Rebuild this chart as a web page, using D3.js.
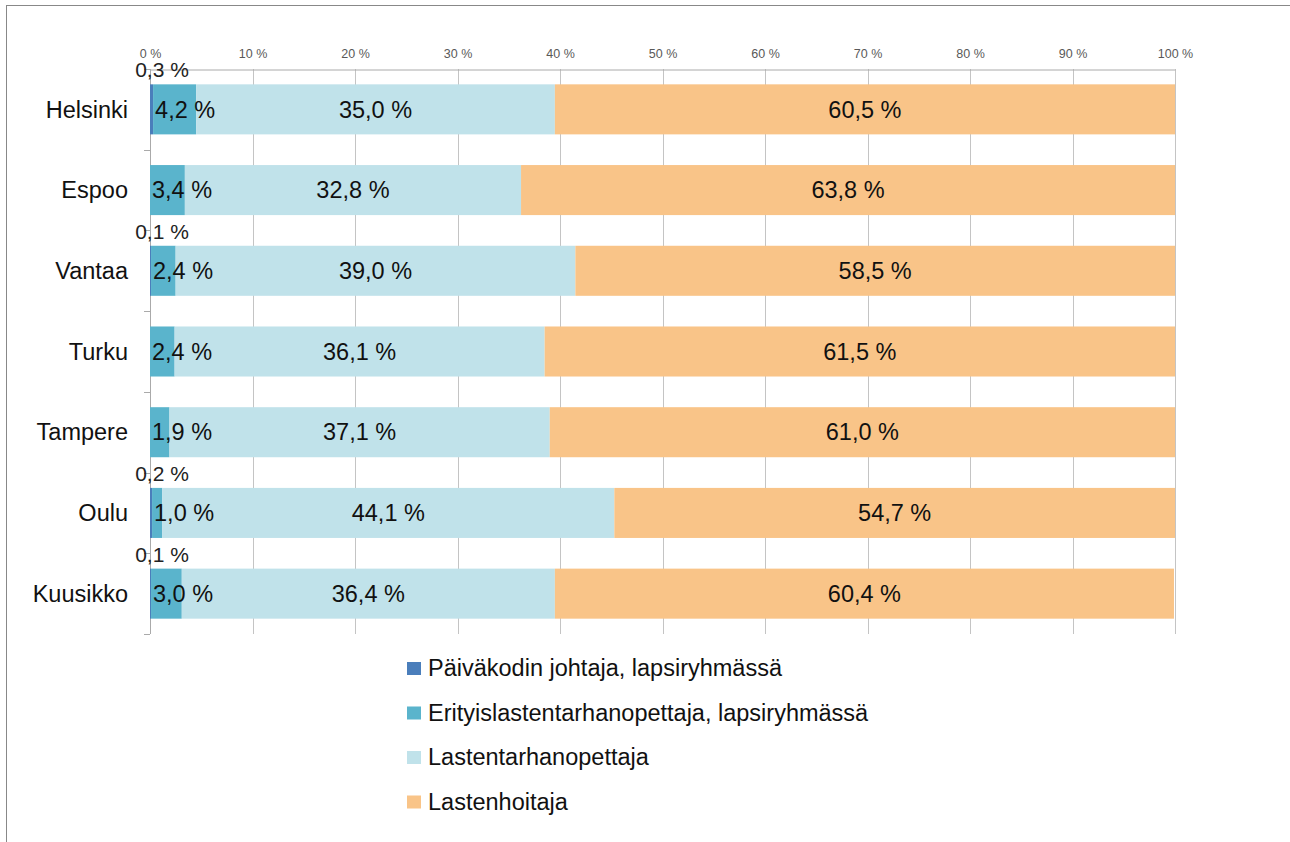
<!DOCTYPE html>
<html>
<head>
<meta charset="utf-8">
<script src="https://cdn.jsdelivr.net/npm/d3@7"></script>
<style>
  body { margin: 0; background: #fff; }
  svg { display: block; font-family: "Liberation Sans", Arial, sans-serif; }
</style>
</head>
<body>
<svg id="chart"></svg>
<script>
// data
var cities = ["Helsinki", "Espoo", "Vantaa", "Turku", "Tampere", "Oulu", "Kuusikko"];
var seriesNames = ["Päiväkodin johtaja, lapsiryhmässä", "Erityislastentarhanopettaja, lapsiryhmässä", "Lastentarhanopettaja", "Lastenhoitaja"];
var johtaja = [0.3, 0, 0.1, 0, 0, 0.2, 0.1];
var erityis = [4.2, 3.4, 2.4, 2.4, 1.9, 1.0, 3.0];
var lto = [35.0, 32.8, 39.0, 36.1, 37.1, 44.1, 36.4];
var hoitaja = [60.5, 63.8, 58.5, 61.5, 61.0, 54.7, 60.4];
var xTicks = [0, 10, 20, 30, 40, 50, 60, 70, 80, 90, 100];
var colors = ["#4a7ebb", "#5ab4cc", "#c0e2ea", "#f9c488"];

var W = 1290, H = 842;
var plotL = 150, plotR = 1175, plotT = 69, plotB = 634;
var fs = 23.5;

var svg = d3.select("#chart").attr("width", W).attr("height", H);

// outer frame
svg.append("rect").attr("x", 6.5).attr("y", 5.5).attr("width", W).attr("height", H)
  .attr("fill", "none").attr("stroke", "#888").attr("stroke-width", 1);

var x = d3.scaleLinear().domain([0, 100]).range([plotL, plotR]);
var y = d3.scaleBand().domain(cities).range([plotT, plotB]).paddingInner(0.38).paddingOuter(0.19);
var yb = d3.scaleBand().domain(cities).range([plotT, plotB]);

// grid
svg.selectAll("line.grid").data(xTicks).enter().append("line")
  .attr("x1", function(d) { return Math.round(x(d)) + 0.5; }).attr("x2", function(d) { return Math.round(x(d)) + 0.5; })
  .attr("y1", plotT).attr("y2", plotB)
  .attr("stroke", "#c4c4c4").attr("stroke-width", 1);

// top axis
var xAxis = d3.axisTop(x).tickValues(xTicks).tickSize(0).tickPadding(12)
  .tickFormat(function(d) { return d + " %"; });
var gx = svg.append("g").attr("transform", "translate(0," + (plotT + 0.5) + ")").call(xAxis);
gx.select(".domain").attr("stroke", "#aaa");
gx.selectAll("text").attr("font-size", 12.5).attr("fill", "#595959")
  .attr("font-family", "Liberation Sans, Arial, sans-serif");

// left axis
svg.append("line").attr("x1", plotL + 0.5).attr("x2", plotL + 0.5).attr("y1", plotT).attr("y2", plotB)
  .attr("stroke", "#aaa");
var bounds = cities.map(function(c) { return yb(c); }).concat([plotB]);
svg.selectAll("line.ytick").data(bounds).enter().append("line")
  .attr("x1", plotL - 6).attr("x2", plotL)
  .attr("y1", function(d) { return Math.round(d) + 0.5; }).attr("y2", function(d) { return Math.round(d) + 0.5; })
  .attr("stroke", "#aaa");

svg.selectAll("text.cat").data(cities).enter().append("text")
  .attr("x", 128).attr("y", function(d) { return y(d) + y.bandwidth() / 2; })
  .attr("dy", "0.35em").attr("text-anchor", "end")
  .attr("font-size", fs).attr("fill", "#111")
  .text(function(d) { return d; });

// stacked bars
var segs = [];
cities.forEach(function(c, i) {
  var v = [johtaja[i], erityis[i], lto[i], hoitaja[i]];
  var cum = 0;
  v.forEach(function(val, k) {
    segs.push({ city: c, k: k, v: val, x0: cum, x1: cum + val });
    cum += val;
  });
});

function fmt(v) { return v.toFixed(1).replace(".", ",") + " %"; }

svg.selectAll("rect.seg").data(segs.filter(function(s) { return s.v > 0; })).enter().append("rect")
  .attr("x", function(s) { return x(s.x0); })
  .attr("y", function(s) { return y(s.city); })
  .attr("width", function(s) { return x(s.x1) - x(s.x0); })
  .attr("height", y.bandwidth())
  .attr("fill", function(s) { return colors[s.k]; });

// labels (drawn after all bars so nothing is covered)
segs.forEach(function(s) {
  var yy = y(s.city), bh = y.bandwidth();
  if (s.k === 0) {
    if (s.v > 0) {
      svg.append("text").attr("x", x(0) + 12).attr("y", yy - 7)
        .attr("text-anchor", "middle").attr("font-size", 21).attr("fill", "#222")
        .text(fmt(s.v));
    }
  } else if (s.k === 1) {
    svg.append("text").attr("x", x(s.x0) + 2).attr("y", yy + bh / 2).attr("dy", "0.35em")
      .attr("text-anchor", "start").attr("font-size", fs).attr("fill", "#111")
      .text(fmt(s.v));
  } else {
    svg.append("text").attr("x", (x(s.x0) + x(s.x1)) / 2).attr("y", yy + bh / 2).attr("dy", "0.35em")
      .attr("text-anchor", "middle").attr("font-size", fs).attr("fill", "#111")
      .text(fmt(s.v));
  }
});

// legend
var lg = svg.selectAll("g.leg").data(seriesNames).enter().append("g")
  .attr("transform", function(d, i) { return "translate(407," + (669 + i * 44.5) + ")"; });
lg.append("rect").attr("x", 0).attr("y", -7).attr("width", 14).attr("height", 13)
  .attr("fill", function(d, i) { return colors[i]; });
lg.append("text").attr("x", 21).attr("y", -1).attr("dy", "0.35em")
  .attr("font-size", fs).attr("fill", "#111")
  .text(function(d) { return d; });
</script>
</body>
</html>
